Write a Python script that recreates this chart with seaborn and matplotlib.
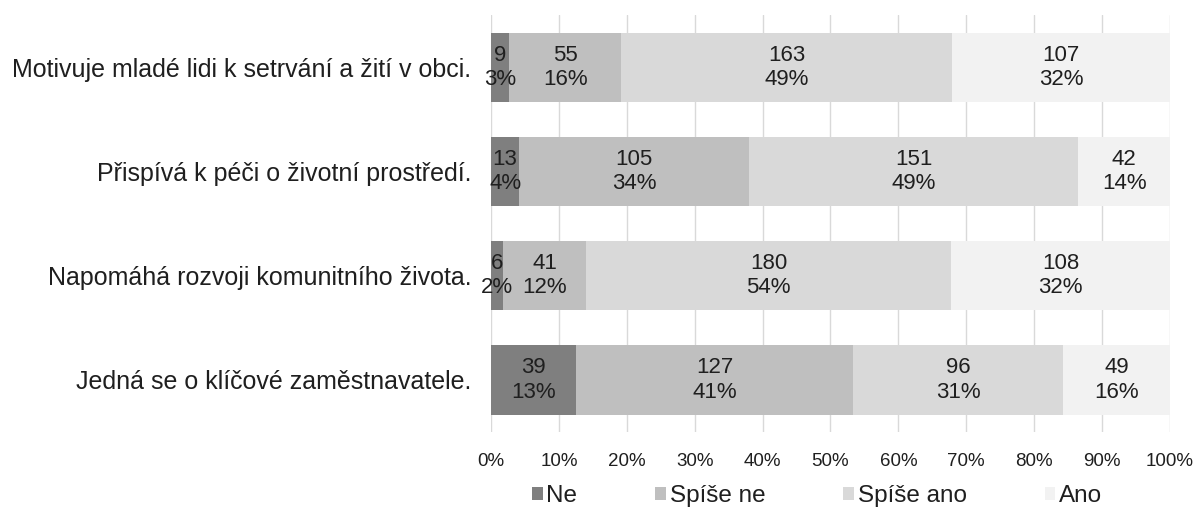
import matplotlib
matplotlib.use("Agg")
import matplotlib.pyplot as plt
from matplotlib.patches import Patch
import seaborn as sns
import pandas as pd
import numpy as np

categories = [
    "Motivuje mladé lidi k setrvání a žití v obci.",
    "Přispívá k péči o životní prostředí.",
    "Napomáhá rozvoji komunitního života.",
    "Jedná se o klíčové zaměstnavatele.",
]
series_names = ["Ne", "Spíše ne", "Spíše ano", "Ano"]
ne = [9, 13, 6, 39]
spise_ne = [55, 105, 41, 127]
spise_ano = [163, 151, 180, 96]
ano = [107, 42, 108, 49]
colors = ["#7f7f7f", "#bfbfbf", "#d9d9d9", "#f2f2f2"]
xticks = [0, 10, 20, 30, 40, 50, 60, 70, 80, 90, 100]

sns.set_theme(style="white")
plt.rcParams["font.family"] = ["Liberation Sans", "DejaVu Sans"]

counts = np.array([ne, spise_ne, spise_ano, ano], dtype=float)  # series x category
totals = counts.sum(axis=0)
shares = counts / totals * 100
cum = np.cumsum(shares, axis=0)

fig = plt.figure(figsize=(11.99, 5.13), dpi=100)
ax = fig.add_axes([0.4095, 0.158, 0.5663, 0.812])

for i in range(3, -1, -1):
    df = pd.DataFrame({"cat": categories, "val": cum[i]})
    sns.barplot(data=df, x="val", y="cat", orient="h", color=colors[i],
                width=0.667, saturation=1, ax=ax, zorder=2, linewidth=0)

txt_color = "#1f1f1f"
for i in range(4):
    for j in range(len(categories)):
        left = cum[i][j] - shares[i][j]
        xc = left + shares[i][j] / 2
        ax.text(xc, j, f"{int(counts[i][j])}\n{shares[i][j]:.0f}%", ha="center", va="center",
                fontsize=16, color=txt_color, linespacing=1.22, zorder=3)

ax.set_xlim(0, 100)
ax.set_ylim(3.5, -0.5)
ax.set_xticks(xticks)
ax.set_xticklabels([f"{t}%" for t in xticks], fontsize=13.5, color=txt_color)
ax.tick_params(axis="y", labelsize=18, labelcolor=txt_color, length=0, pad=14)
ax.tick_params(axis="x", length=0, pad=15.5)
ax.set_xlabel("")
ax.set_ylabel("")
for s in ax.spines.values():
    s.set_visible(False)
ax.grid(axis="x", color="#d9d9d9", linewidth=1, zorder=0)
ax.set_axisbelow(True)

handles = [Patch(facecolor=c, edgecolor="none", label=n) for c, n in zip(colors, series_names)]
leg = fig.legend(handles=handles, loc="center", bbox_to_anchor=(817 / 1199, 1 - 496 / 513), ncol=4,
                 frameon=False, fontsize=17.5, handlelength=0.45, handleheight=0.45,
                 handletextpad=0.15, columnspacing=3.2, borderpad=0, borderaxespad=0)
for t in leg.get_texts():
    t.set_color(txt_color)

fig.savefig("out.png", dpi=100)
